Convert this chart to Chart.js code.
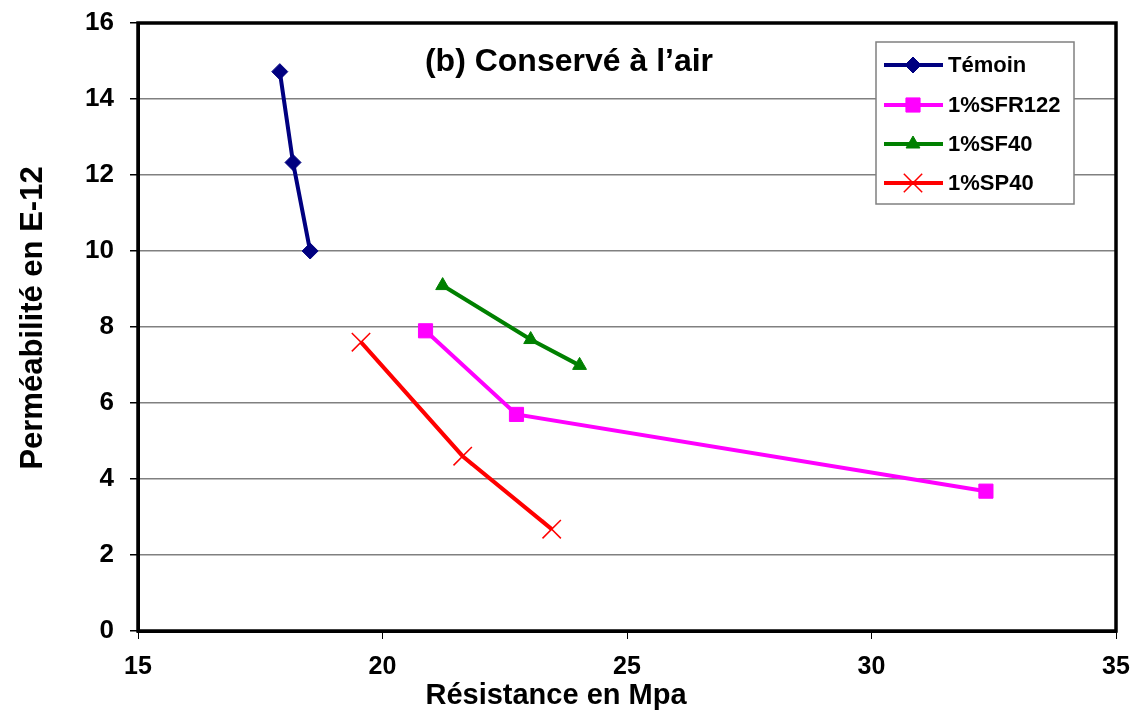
<!DOCTYPE html>
<html>
<head>
<meta charset="utf-8">
<script src="https://cdn.jsdelivr.net/npm/chart.js@4.4.1/dist/chart.umd.min.js"></script>
<style>
  html, body { margin: 0; padding: 0; background: #fff; }
  #wrap { width: 1137px; height: 717px; }
</style>
</head>
<body>
<div id="wrap"><canvas id="permChart" width="1137" height="717"></canvas></div>
<script>
// === DATA ===
const temoinX = [17.9, 18.17, 18.52];
const temoinY = [14.72, 12.33, 10.0];
const sfr122X = [20.88, 22.74, 32.34];
const sfr122Y = [7.9, 5.7, 3.68];
const sf40X = [21.23, 23.03, 24.03];
const sf40Y = [9.09, 7.67, 6.99];
const sp40X = [19.56, 21.64, 23.46];
const sp40Y = [7.6, 4.6, 2.68];

const seriesNames = ["Témoin", "1%SFR122", "1%SF40", "1%SP40"];
const chartTitle = "(b) Conservé à l’air";
const xTitle = "Résistance en Mpa";
const yTitle = "Perméabilité en E-12";

const FONT = "'Liberation Sans', Arial, sans-serif";

function pts(xs, ys) {
  return xs.map((x, i) => ({ x: x, y: ys[i] }));
}

const series = [
  { label: seriesNames[0], data: pts(temoinX, temoinY), color: "#000080", style: "rectRot", radius: 8, pw: 1 },
  { label: seriesNames[1], data: pts(sfr122X, sfr122Y), color: "#FF00FF", style: "rect", radius: 10, pw: 1 },
  { label: seriesNames[2], data: pts(sf40X, sf40Y), color: "#008000", style: "triangle", radius: 8, pw: 1 },
  { label: seriesNames[3], data: pts(sp40X, sp40Y), color: "#FF0000", style: "crossRot", radius: 13, pw: 1.5 },
];

// plot frame, titles and legend box
const extras = {
  id: "extras",
  afterDraw(chart) {
    const { ctx, chartArea: a } = chart;
    ctx.save();
    ctx.strokeStyle = "#000";
    ctx.lineWidth = 3.5;
    ctx.strokeRect(a.left, a.top, a.right - a.left, a.bottom - a.top);

    ctx.fillStyle = "#000";
    ctx.font = "bold 32px " + FONT;
    ctx.textAlign = "center";
    ctx.textBaseline = "middle";
    ctx.fillText(chartTitle, 569, 62);

    // axis titles
    ctx.font = "bold 29px " + FONT;
    ctx.textBaseline = "alphabetic";
    ctx.fillText(xTitle, 556, 704);

    ctx.save();
    ctx.translate(42, 318);
    ctx.rotate(-Math.PI / 2);
    ctx.font = "bold 31px " + FONT;
    ctx.fillText(yTitle, 0, 0);
    ctx.restore();

    // legend
    const lx = 876, ly = 42, lw = 198, lh = 162;
    ctx.fillStyle = "#fff";
    ctx.fillRect(lx, ly, lw, lh);
    ctx.strokeStyle = "#808080";
    ctx.lineWidth = 1.5;
    ctx.strokeRect(lx, ly, lw, lh);
    const rows = [65, 105, 144, 183];
    series.forEach((s, i) => {
      const y = rows[i];
      ctx.strokeStyle = s.color;
      ctx.lineWidth = 4;
      ctx.beginPath();
      ctx.moveTo(884, y);
      ctx.lineTo(943, y);
      ctx.stroke();
      ctx.fillStyle = s.color;
      ctx.lineWidth = s.pw;
      Chart.helpers.drawPoint(ctx, { pointStyle: s.style, radius: s.radius, borderWidth: s.pw }, 913, y);
      ctx.fillStyle = "#000";
      ctx.font = "bold 22px " + FONT;
      ctx.textAlign = "left";
      ctx.textBaseline = "middle";
      ctx.fillText(s.label, 948, y + 1);
    });
    ctx.restore();
  },
};

const ctx = document.getElementById("permChart").getContext("2d");
const permChart = new Chart(ctx, {
  type: "scatter",
  data: {
    datasets: series.map((s) => ({
      label: s.label,
      data: s.data,
      showLine: true,
      borderColor: s.color,
      backgroundColor: s.color,
      borderWidth: 4,
      pointStyle: s.style,
      pointRadius: s.radius,
      pointHoverRadius: s.radius,
      pointBorderWidth: s.pw,
      pointBorderColor: s.color,
      pointBackgroundColor: s.color,
    })),
  },
  options: {
    responsive: false,
    animation: false,
    layout: { padding: { top: 23, right: 21, bottom: 0, left: 0 } },
    scales: {
      x: {
        type: "linear",
        min: 15,
        max: 35,
        afterFit: (scale) => {
          scale.height = 86;
          scale.paddingLeft = 0;
          scale.paddingRight = 0;
        },
        ticks: {
          stepSize: 5,
          color: "#000",
          padding: 13,
          font: { family: FONT, size: 25, weight: "bold" },
        },
        grid: { drawOnChartArea: false, drawTicks: true, tickLength: 8, tickColor: "#000" },
        border: { color: "#000", width: 3 },
      },
      y: {
        type: "linear",
        min: 0,
        max: 16,
        afterFit: (scale) => {
          scale.width = 138;
          scale.paddingTop = 0;
          scale.paddingBottom = 0;
        },
        ticks: {
          stepSize: 2,
          color: "#000",
          padding: 16,
          font: { family: FONT, size: 26, weight: "bold" },
        },
        grid: { color: "#808080", lineWidth: 1.5, drawTicks: true, tickLength: 8, tickColor: "#000" },
        border: { color: "#000", width: 3 },
      },
    },
    plugins: {
      legend: { display: false },
      tooltip: { enabled: false },
    },
  },
  plugins: [extras],
});
</script>
</body>
</html>
